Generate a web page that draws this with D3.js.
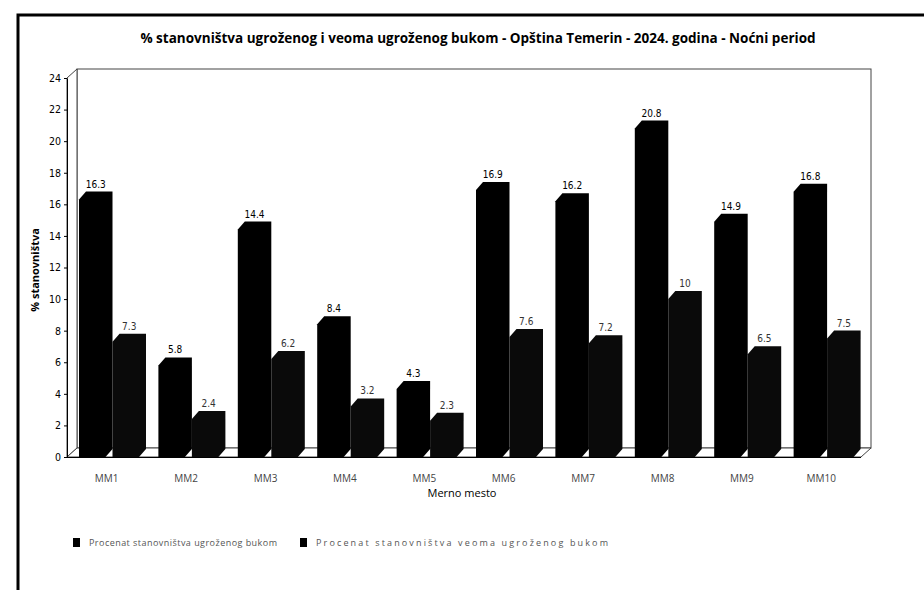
<!DOCTYPE html>
<html>
<head>
<meta charset="utf-8">
<script src="https://cdn.jsdelivr.net/npm/d3@7"></script>
<style>
  body { margin: 0; background: #fff; }
  text { font-family: "Open Sans", "DejaVu Sans", sans-serif; }
</style>
</head>
<body>
<script>
// data
var categories = ["MM1", "MM2", "MM3", "MM4", "MM5", "MM6", "MM7", "MM8", "MM9", "MM10"];
var ugrozeni = [16.3, 5.8, 14.4, 8.4, 4.3, 16.9, 16.2, 20.8, 14.9, 16.8];
var veomaUgrozeni = [7.3, 2.4, 6.2, 3.2, 2.3, 7.6, 7.2, 10, 6.5, 7.5];
var seriesNames = ["Procenat stanovništva ugroženog bukom", "Procenat stanovništva veoma ugroženog bukom"];
var yTicks = [0, 2, 4, 6, 8, 10, 12, 14, 16, 18, 20, 22, 24];

var width = 924, height = 590;
var svg = d3.select("body").append("svg")
    .attr("width", width)
    .attr("height", height);

// outer frame
svg.append("path")
    .attr("d", "M18,590 L18,15 L924,15")
    .attr("fill", "none")
    .attr("stroke", "#000")
    .attr("stroke-width", 3);

svg.append("text")
    .attr("x", 478).attr("y", 43)
    .attr("text-anchor", "middle")
    .style("font-size", "13.5px")
    .style("font-weight", "bold")
    .text("% stanovništva ugroženog i veoma ugroženog bukom - Opština Temerin - 2024. godina - Noćni period");

var left = 67, right = 861, bottom = 457;
var depthX = 10, depthY = 9;   // wall depth
var barDx = 7, barDy = 8;      // bar depth

var x = d3.scaleBand().domain(categories).range([left, right]);
var xInner = d3.scaleBand().domain([0, 1]).range([12, 79]);
var y = d3.scaleLinear().domain([0, 24]).range([bottom, 78]);

// back wall, left wall and floor
var wall = svg.append("g").attr("fill", "#fff").attr("stroke", "#444").attr("stroke-width", 1);
wall.append("rect")
    .attr("x", left + depthX).attr("y", y(24) - depthY)
    .attr("width", right - left).attr("height", bottom - y(24));
wall.append("path")
    .attr("d", "M" + left + "," + y(24) + " L" + (left + depthX) + "," + (y(24) - depthY) +
      " L" + (left + depthX) + "," + (bottom - depthY) + " L" + left + "," + bottom + "Z");
wall.append("path")
    .attr("d", "M" + left + "," + bottom + " L" + (left + depthX) + "," + (bottom - depthY) +
      " L" + (right + depthX) + "," + (bottom - depthY) + " L" + right + "," + bottom + "Z");

// y axis
var yAxis = svg.append("g")
    .attr("transform", "translate(" + left + ",0)")
    .call(d3.axisLeft(y).tickValues(yTicks).tickSize(3).tickSizeOuter(0));
yAxis.select(".domain").attr("stroke", "#000");
yAxis.selectAll("text")
    .style("font-size", "10.5px")
    .style("font-family", "'Liberation Sans Narrow', 'DejaVu Sans Condensed', sans-serif")
    .attr("x", -6);

svg.append("text")
    .attr("transform", "translate(39,270) rotate(-90)")
    .attr("text-anchor", "middle")
    .style("font-size", "11px")
    .style("font-weight", "bold")
    .text("% stanovništva");

// bars
var rows = [];
categories.forEach(function(c, i) {
  rows.push({cat: c, s: 0, value: ugrozeni[i]});
  rows.push({cat: c, s: 1, value: veomaUgrozeni[i]});
});

function barPath(d) {
  var x0 = x(d.cat) + xInner(d.s);
  var w = xInner.bandwidth() - barDx;
  var yt = y(d.value);
  return "M" + x0 + "," + bottom + " L" + x0 + "," + yt +
    " L" + (x0 + barDx) + "," + (yt - barDy) +
    " L" + (x0 + w + barDx) + "," + (yt - barDy) +
    " L" + (x0 + w + barDx) + "," + (bottom - barDy) +
    " L" + (x0 + w) + "," + bottom + "Z";
}

svg.append("g").selectAll("path")
    .data(rows)
    .enter().append("path")
    .attr("d", barPath)
    .attr("fill", function(d) { return d.s == 0 ? "#000" : "#0a0a0a"; });

svg.append("g").selectAll("text")
    .data(rows)
    .enter().append("text")
    .attr("x", function(d) { return x(d.cat) + xInner(d.s) + xInner.bandwidth() / 2; })
    .attr("y", function(d) { return y(d.value) - barDy - 4; })
    .attr("text-anchor", "middle")
    .style("font-size", "10px")
    .style("font-family", "'Liberation Sans Narrow', 'DejaVu Sans Condensed', sans-serif")
    .attr("fill", function(d) { return d.s == 0 ? "#000" : "#333"; })
    .text(function(d) { return d.value; });

// x axis line and labels
svg.append("line")
    .attr("x1", left).attr("x2", right)
    .attr("y1", bottom + 0.5).attr("y2", bottom + 0.5)
    .attr("stroke", "#000");

svg.append("g").selectAll("text")
    .data(categories)
    .enter().append("text")
    .attr("x", function(d) { return x(d) + x.bandwidth() / 2; })
    .attr("y", 482)
    .attr("text-anchor", "middle")
    .style("font-size", "10px")
    .attr("fill", "#444")
    .text(function(d) { return d; });

svg.append("text")
    .attr("x", 462).attr("y", 497)
    .attr("text-anchor", "middle")
    .style("font-size", "11px")
    .text("Merno mesto");

// legend
var legendX = [73, 300];
var legendW = [188, 292];
var legend = svg.append("g").selectAll("g")
    .data(seriesNames)
    .enter().append("g")
    .attr("transform", function(d, i) { return "translate(" + legendX[i] + ",538)"; });
legend.append("rect")
    .attr("width", 7).attr("height", 9)
    .attr("fill", "#000");
legend.append("text")
    .attr("x", 16).attr("y", 8)
    .attr("textLength", function(d, i) { return legendW[i]; })
    .style("font-size", "9px")
    .attr("fill", "#555")
    .text(function(d) { return d; });
</script>
</body>
</html>
